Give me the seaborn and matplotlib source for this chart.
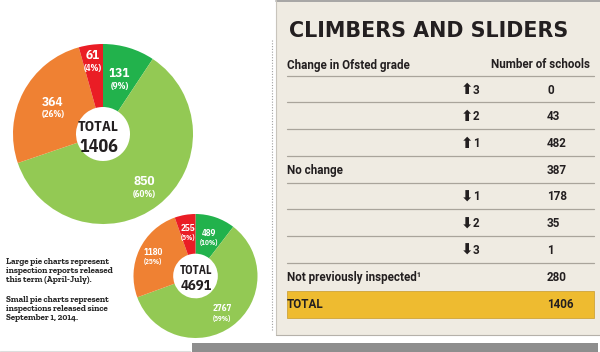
import matplotlib
matplotlib.use("Agg")
import matplotlib.pyplot as plt
import seaborn as sns
import numpy as np
from matplotlib import font_manager as fm
from matplotlib.patches import Rectangle

# ---------------- data ----------------
large_values = [131, 850, 364, 61]
large_pcts = ["9%", "60%", "26%", "4%"]
large_total = 1406
small_values = [489, 2767, 1180, 255]
small_pcts = ["10%", "59%", "25%", "5%"]
small_total = 4691

row_labels = ["", "", "", "No change", "", "", "", "Not previously inspected\u00b9", "TOTAL"]
row_arrows = ["\u2b063", "\u2b062", "\u2b061", "", "\u2b071", "\u2b072", "\u2b073", "", ""]
row_counts = [0, 43, 482, 387, 178, 35, 1, 280, 1406]

note_para1 = "Large pie charts represent\ninspection reports released\nthis term (April-July)."
note_para2 = "Small pie charts represent\ninspections released since\nSeptember 1, 2014."

# ---------------- style ----------------
pie_colors = ["#22b24c", "#93c954", "#ef8133", "#ea1d25"]
large_label_dist = [0.64, 0.75, 0.63, 0.82]
small_label_dist = [0.66, 0.73, 0.76, 0.72]

sns.set_theme(style="white")
names = {f.name for f in fm.fontManager.ttflist}


def pick(cands, default):
    for c in cands:
        if c in names:
            return c
    return default


narrow = pick(["IBM Plex Sans Condensed", "Liberation Sans Narrow", "Roboto Condensed"], "Roboto")
slab = pick(["Roboto Slab", "Zilla Slab", "Arvo", "Bitter", "Noto Serif"], "Liberation Serif")
plt.rcParams["font.family"] = ["Roboto", "DejaVu Sans"]

W, H = 600, 352
fig = plt.figure(figsize=(W / 100, H / 100), dpi=100)
fig.patch.set_facecolor("white")

bg = fig.add_axes([0, 0, 1, 1])
bg.set_xlim(0, W)
bg.set_ylim(H, 0)
bg.axis("off")

# panel
bg.add_patch(Rectangle((276, 0), 324, 335, facecolor="#efebe2", edgecolor="none", zorder=0))
bg.plot([276, 600], [0.6, 0.6], color="#9a9a9a", lw=1.2, zorder=1)
bg.plot([276, 276], [0, 335], color="#c8c4bc", lw=0.8, zorder=1)
bg.plot([276, 600], [335, 335], color="#b5b1aa", lw=0.8, zorder=1)
bg.plot([271.5, 271.5], [40, 330], color="#a0a0a0", lw=0.8, ls=(0, (1, 1.5)), zorder=1)
bg.add_patch(Rectangle((192, 343), 406, 10, facecolor="#8e8e8e", edgecolor="none", zorder=1))
bg.plot([0, 190], [350.5, 350.5], color="#dddddd", lw=0.8, zorder=1)

# title
bg.text(289, 37, "CLIMBERS AND SLIDERS", fontsize=14.9, fontweight="bold",
        family=["DejaVu Sans"], color="#231f20", va="baseline", ha="left")

# header
hdr_kw = dict(fontsize=8.4, fontweight="bold", color="#231f20", va="center")
bg.text(287, 65, "Change in Ofsted grade", ha="left", **hdr_kw)
bg.text(590, 65, "Number of schools", ha="right", **hdr_kw)

row_y0, row_step = 90.0, 26.75
line_ys = [75.7 + row_step * k for k in range(8)]
for ly in line_ys:
    bg.plot([287, 594], [ly, ly], color="#a9a49b", lw=0.9, zorder=1)

# total highlight
total_idx = len(row_counts) - 1
ty = row_y0 + row_step * total_idx
bg.add_patch(Rectangle((287, ty - 13.5), 307, 27, facecolor="#eebb30",
                       edgecolor="#c89a2a", lw=0.5, zorder=1))

for i, (lab, arr, cnt) in enumerate(zip(row_labels, row_arrows, row_counts)):
    y = row_y0 + row_step * i
    kw = dict(fontsize=8.4, fontweight="bold", color="#231f20", va="center", zorder=3)
    if lab:
        bg.text(287, y, lab, ha="left", **kw)
    if arr:
        bg.text(461, y, arr[0], ha="left", family=["DejaVu Sans"], fontsize=10.5,
                fontweight="bold", color="#231f20", va="center", zorder=3)
        bg.text(473, y, arr[1:], ha="left", **kw)
    bg.text(547, y, f"{cnt}", ha="left", **kw)

# note
note_kw = dict(fontsize=6.4, fontweight="bold", family=[slab, "DejaVu Serif"],
               color="#262626", ha="left", va="top", linespacing=1.15)
bg.text(6, 258, note_para1, **note_kw)
bg.text(6, 296, note_para2, **note_kw)


def donut(cx, cy, r, values, pcts, total, dists, hole, vsize, psize, tsize, nsize, t_off, n_off):
    ax = fig.add_axes([(cx - r) / W, (H - cy - r) / H, 2 * r / W, 2 * r / H])
    wedges, _ = ax.pie(values, colors=pie_colors, startangle=90, counterclock=False,
                       radius=1.0, wedgeprops=dict(width=1 - hole, edgecolor="none"))
    ax.set_xlim(-1, 1)
    ax.set_ylim(-1, 1)
    ax.axis("off")
    for w, v, p, d in zip(wedges, values, pcts, dists):
        ang = np.deg2rad((w.theta1 + w.theta2) / 2)
        x, y = d * np.cos(ang), d * np.sin(ang)
        ax.annotate(f"{v}", (x, y), xytext=(0, vsize * 0.42), textcoords="offset points",
                    ha="center", va="center", color="white", fontsize=vsize,
                    family=[narrow, "DejaVu Sans"], fontweight="bold")
        ax.annotate(f"({p})", (x, y), xytext=(0, -psize * 0.8), textcoords="offset points",
                    ha="center", va="center", color="white", fontsize=psize,
                    family=[narrow, "DejaVu Sans"], fontweight="bold")
    ax.text(t_off[0], t_off[1], "TOTAL", ha="center", va="center", fontsize=tsize,
            family=[narrow, "DejaVu Sans"], fontweight="bold", color="#231f20")
    ax.text(n_off[0], n_off[1], f"{total}", ha="center", va="center", fontsize=nsize,
            family=[narrow, "DejaVu Sans"], fontweight="bold", color="#231f20")
    return ax


donut(103, 134, 90, large_values, large_pcts, large_total, large_label_dist,
      0.3, 9.5, 6.5, 10.5, 13.0, (-0.05, 0.08), (-0.05, -0.15))
donut(195.5, 276, 62, small_values, small_pcts, small_total, small_label_dist,
      0.36, 6.5, 5.0, 8.5, 10.5, (0.01, 0.09), (0.01, -0.16))

fig.savefig("out.png", dpi=100, facecolor="white")
